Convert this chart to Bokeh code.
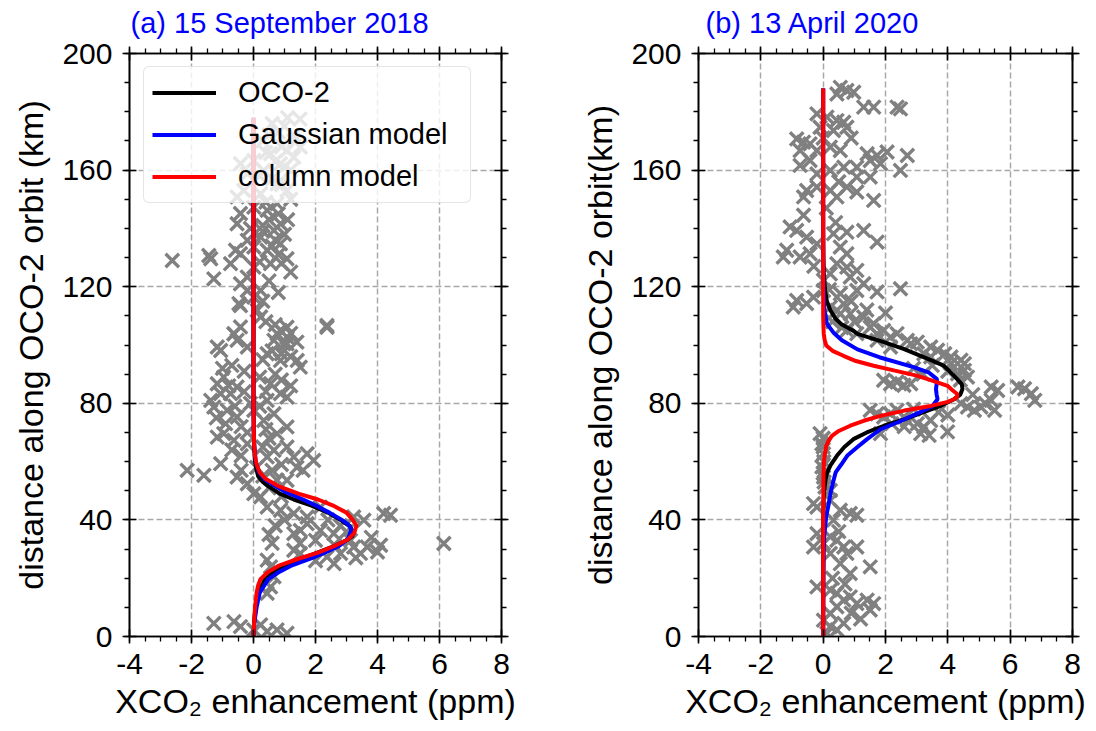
from bokeh.plotting import figure
from bokeh.models import (Range1d, FixedTicker, LinearAxis, Legend, LegendItem,
                          ColumnDataSource, CustomJSTickFormatter, CustomLabelingPolicy)
from bokeh.layouts import row
from bokeh.embed import file_html
from bokeh.resources import INLINE

# ---------------- data ----------------
title_a = "(a) 15 September 2018"
title_b = "(b) 13 April 2020"
ylabel_a = "distance along OCO-2 orbit (km)"
ylabel_b = "distance along OCO-2 orbit(km)"
xlabel = "XCO\u2082 enhancement (ppm)"
x_ticks = [-4, -2, 0, 2, 4, 6, 8]
y_ticks = [0, 40, 80, 120, 160, 200]
legend_labels = ["OCO-2", "Gaussian model", "column model"]

# panel (a) OCO-2 soundings (enhancement ppm, distance km)
a_pts = [
    (-2.62, 129.0), (-1.44, 130.7), (-1.28, 122.7), (-1.38, 129.6), (-0.74, 127.9),
    (-0.58, 132.5), (-0.42, 131.3), (1.08, 129.6), (-0.47, 114.2), (0.23, 118.7),
    (2.37, 106.7), (-0.63, 103.9), (-1.17, 99.3), (0.76, 103.9), (1.08, 102.7),
    (0.98, 100.4), (-0.42, 145.1), (0.01, 147.3), (0.44, 146.2), (0.76, 148.5),
    (-0.53, 141.6), (0.87, 141.6), (0.23, 137.0), (0.66, 139.3), (-0.20, 135.9),
    (0.01, 133.6), (0.44, 132.5), (0.87, 134.7), (0.55, 127.9), (-0.20, 123.3),
    (0.01, 126.7), (-0.42, 121.0), (-0.20, 118.7), (0.01, 116.4), (0.12, 111.9),
    (0.23, 109.6), (-0.42, 106.2), (-0.42, 162.2), (0.01, 163.3), (0.55, 165.6),
    (1.08, 166.7), (1.30, 164.4), (1.51, 167.9), (0.87, 162.2), (0.33, 159.9),
    (-0.20, 158.7), (-0.31, 153.0), (0.76, 155.3), (1.08, 153.0), (0.23, 151.9),
    (-0.53, 150.8), (1.30, 170.1), (1.00, 175.0), (1.30, 172.0), (0.60, 176.0),
    (1.50, 177.5), (0.90, 168.0), (1.20, 160.0), (0.50, 143.0), (0.30, 141.0),
    (-0.10, 140.0), (0.70, 136.0), (1.00, 138.0), (0.20, 128.5), (0.80, 131.0),
    (-0.42, 113.5), (2.37, 106.1), (-0.63, 103.8), (-1.06, 98.1), (-0.53, 101.6),
    (-0.20, 99.3), (0.87, 105.0), (1.08, 106.1), (0.66, 101.6), (1.08, 100.4),
    (0.44, 97.0), (0.87, 94.7), (1.41, 94.7), (1.51, 92.4), (-1.17, 86.7),
    (-0.96, 89.0), (-1.06, 83.3), (-1.38, 81.0), (-0.74, 83.3), (-0.53, 85.6),
    (-1.28, 78.7), (-0.85, 77.6), (0.55, 86.7), (0.87, 83.3), (1.08, 82.1),
    (0.44, 81.0), (0.01, 77.6), (0.66, 76.4), (-0.53, 75.3), (-1.17, 68.4),
    (-0.96, 69.6), (-0.63, 67.3), (-0.20, 66.1), (0.76, 69.6), (1.08, 71.9),
    (0.33, 74.1), (0.66, 63.9), (1.08, 65.0), (1.73, 62.7), (1.94, 60.4),
    (1.30, 61.6), (0.44, 61.6), (-2.14, 57.0), (-1.60, 55.3), (-1.06, 59.3),
    (-0.53, 54.7), (-0.20, 52.4), (0.01, 49.0), (0.23, 47.9), (0.76, 53.6),
    (1.08, 53.6), (0.44, 44.4), (0.87, 43.3), (1.30, 42.2), (1.73, 41.0),
    (2.16, 44.4), (3.23, 41.0), (3.56, 39.9), (4.20, 42.2), (4.42, 41.6),
    (1.30, 35.3), (1.51, 36.4), (1.73, 38.7), (2.16, 36.4), (2.59, 35.3),
    (3.13, 33.0), (3.23, 30.7), (3.67, 30.7), (4.10, 31.3), (3.45, 28.5),
    (2.81, 28.5), (2.37, 27.3), (1.51, 28.5), (1.30, 29.6), (6.14, 31.9),
    (0.44, 26.2), (0.55, 23.9), (0.66, 20.5), (0.55, 17.0), (0.44, 14.8),
    (-1.28, 4.5), (-0.63, 5.1), (-0.42, 3.4), (0.01, 2.3), (0.44, 1.7),
    (0.76, 2.3), (1.08, 1.1), (0.23, 4.0), (-0.30, 91.0), (0.20, 89.0),
    (-0.70, 93.0), (0.40, 71.0), (-0.40, 62.0), (0.10, 58.0), (0.60, 57.0),
    (-0.90, 73.0), (1.40, 58.0), (0.90, 48.0), (0.70, 38.0), (2.60, 31.5),
    (0.30, 170.0), (0.50, 172.0), (0.80, 173.0), (1.10, 178.0), (0.40, 166.0),
    (0.70, 163.0), (1.00, 161.0), (0.20, 158.0), (0.60, 157.0), (0.90, 155.0),
    (1.20, 150.0), (0.40, 149.0), (0.80, 145.0), (1.10, 143.0), (0.30, 139.0),
    (0.60, 134.0), (0.90, 128.0), (1.20, 125.0), (0.50, 122.0), (0.80, 118.0),
    (0.30, 115.0), (0.40, 108.0), (0.70, 107.0), (1.20, 104.0), (1.40, 101.0),
    (0.60, 98.0), (0.90, 97.0), (1.20, 96.0), (0.30, 95.0), (-1.00, 92.0),
    (-0.80, 86.0), (-0.30, 84.0), (-0.10, 80.0), (-0.60, 79.0), (-1.20, 75.0),
    (-0.40, 72.0), (-0.70, 64.0), (-0.20, 70.0), (0.30, 65.0), (0.50, 68.0),
    (0.20, 79.0), (0.40, 84.0), (0.70, 90.0), (0.90, 88.0), (1.20, 86.0),
    (0.30, 55.0), (0.50, 51.0), (0.90, 59.0), (1.60, 57.0), (-0.40, 57.0),
    (1.00, 40.0), (1.50, 32.0), (2.00, 33.0), (2.40, 40.0), (2.80, 38.0),
    (3.00, 36.0), (3.80, 34.0), (4.00, 29.0), (3.30, 27.0), (2.60, 25.0),
    (2.00, 26.0), (0.60, 32.0), (0.50, 35.0),
]

# panel (a) curves: distance (km) and enhancement (ppm)
a_obs_d = [0, 5, 10, 15, 19.6, 22, 24.2, 27.6, 31, 33, 34.5, 36, 37.9, 40, 42.5, 45, 47,
           49, 51.6, 53, 55, 58, 61, 65, 70, 80, 178]
a_obs_x = [0, 0.02, 0.06, 0.15, 0.37, 0.65, 1.0, 1.77, 2.6, 3.0, 3.2, 3.2, 3.1, 2.8, 2.4,
           1.85, 1.3, 0.85, 0.47, 0.3, 0.15, 0.08, 0.04, 0.02, 0.01, 0, 0]
a_gau_d = [0, 5, 10, 15, 19.6, 22, 24.2, 27, 29, 31, 33.5, 36.8, 38.5, 40, 42.5, 45, 47,
           49.5, 51.6, 54, 56.3, 60, 65, 70, 80, 178]
a_gau_x = [0, 0.03, 0.1, 0.2, 0.47, 0.8, 1.2, 1.9, 2.35, 2.75, 3.05, 3.16, 3.05, 2.85, 2.45,
           2.0, 1.6, 1.05, 0.7, 0.35, 0.18, 0.07, 0.03, 0.01, 0, 0]
a_col_d = [0, 5, 10, 15, 17.5, 19.6, 22, 24.2, 26.5, 28.8, 31, 33.3, 35.5, 38, 40, 42.5,
           45, 47, 49, 51.6, 54, 56.3, 59, 62, 66, 70, 80, 178]
a_col_x = [0, 0.02, 0.05, 0.1, 0.15, 0.22, 0.45, 0.8, 1.4, 2.08, 2.6, 3.05, 3.25, 3.32, 3.2,
           3.0, 2.55, 2.08, 1.45, 0.8, 0.4, 0.2, 0.1, 0.05, 0.02, 0.01, 0, 0]

# panel (b) OCO-2 soundings
b_pts = [
    (0.55, 188.4), (0.76, 187.3), (0.98, 186.7), (0.44, 186.1), (1.30, 181.6),
    (1.62, 181.6), (2.37, 181.6), (2.48, 181.0), (-0.20, 179.3), (0.12, 178.2),
    (0.44, 177.0), (0.66, 176.4), (0.33, 173.6), (0.76, 174.7), (-0.10, 174.7),
    (-0.85, 170.7), (-0.63, 169.6), (-0.42, 169.0), (-0.20, 166.7), (0.23, 167.9),
    (0.55, 166.7), (-0.74, 166.7), (1.41, 165.6), (1.73, 165.0), (2.05, 166.2),
    (2.70, 165.0), (1.51, 163.3), (1.84, 162.2), (2.48, 159.9), (1.08, 161.0),
    (-0.74, 161.6), (-0.42, 163.3), (-0.20, 158.7), (0.23, 159.9), (0.66, 161.0),
    (1.08, 157.6), (1.51, 157.6), (0.76, 154.2), (-0.53, 153.0), (-0.20, 154.2),
    (0.23, 153.0), (0.44, 150.8), (1.08, 152.5), (1.62, 149.6), (-0.63, 150.8),
    (-0.63, 144.5), (-1.06, 140.5), (-0.85, 139.3), (-0.53, 137.0), (-0.20, 134.7),
    (-1.17, 132.5), (-1.28, 130.2), (-0.74, 130.2), (-0.42, 131.3), (0.33, 138.2),
    (0.76, 138.7), (1.30, 139.3), (1.73, 135.3), (0.55, 133.6), (0.76, 131.3),
    (0.44, 127.9), (0.76, 126.7), (1.08, 125.6), (0.87, 123.3), (0.23, 124.4),
    (0.01, 122.2), (-0.85, 115.3), (-0.53, 114.2), (-0.96, 113.0), (-0.31, 116.4),
    (0.01, 118.7), (0.55, 117.6), (1.08, 118.7), (1.73, 118.2), (2.48, 119.3),
    (0.44, 111.9), (0.87, 110.7), (1.30, 109.6), (1.62, 107.3), (1.94, 105.0),
    (2.37, 103.9), (2.70, 101.6), (3.02, 101.0), (3.45, 99.3), (3.67, 98.2),
    (4.10, 95.9), (4.42, 94.8), (4.53, 93.6), (2.16, 99.3), (1.73, 101.6),
    (1.08, 103.9), (0.76, 105.0), (0.23, 113.0), (0.66, 114.1), (0.55, 110.7),
    (1.51, 106.1), (1.73, 103.8), (2.16, 102.7), (2.81, 100.4), (3.23, 97.0),
    (3.45, 95.9), (4.10, 93.6), (4.53, 91.3), (4.31, 90.1), (4.63, 89.0),
    (1.94, 87.9), (2.16, 86.7), (2.37, 87.3), (2.59, 86.2), (2.81, 86.7),
    (5.39, 85.6), (5.60, 84.4), (6.25, 85.6), (6.46, 85.0), (6.68, 83.3),
    (6.79, 81.0), (4.42, 79.9), (4.63, 78.7), (4.85, 77.6), (5.06, 78.7),
    (5.39, 81.0), (5.50, 77.6), (1.51, 77.6), (1.73, 76.4), (1.94, 75.3),
    (2.16, 76.4), (2.37, 77.6), (2.59, 75.3), (2.70, 74.1), (3.02, 73.0),
    (3.23, 71.9), (3.45, 74.1), (3.13, 69.6), (3.99, 70.2), (1.84, 69.6),
    (-0.10, 69.6), (-0.04, 66.1), (0.01, 62.7), (-0.04, 58.2), (0.01, 54.7),
    (0.06, 51.3), (0.23, 50.1), (0.00, 68.0), (0.00, 65.0), (0.02, 60.0),
    (0.00, 56.0), (0.03, 53.0), (-0.31, 45.6), (-0.20, 44.4), (0.23, 46.7),
    (0.55, 43.3), (0.87, 42.2), (1.08, 41.6), (0.33, 39.9), (-0.20, 35.3),
    (-0.31, 30.7), (0.01, 31.9), (0.23, 34.2), (0.44, 33.0), (0.66, 30.7),
    (0.76, 28.5), (1.08, 30.7), (0.55, 25.0), (0.87, 21.6), (1.51, 23.9),
    (0.23, 28.5), (-0.20, 17.0), (0.23, 15.9), (0.44, 14.8), (0.66, 12.5),
    (0.87, 13.6), (1.08, 11.3), (1.41, 12.5), (1.62, 11.3), (1.51, 9.1),
    (0.44, 10.2), (0.23, 7.9), (0.01, 5.6), (0.23, 3.4), (0.44, 2.3),
    (0.66, 4.5), (0.12, 1.1), (0.90, 8.0), (1.20, 6.0), (0.30, 20.0),
    (0.30, 108.0), (0.60, 106.0), (1.00, 108.0), (1.40, 112.0), (0.90, 115.0),
    (1.30, 121.0), (2.00, 111.0), (3.90, 97.0), (3.50, 93.0), (4.00, 91.0),
    (3.20, 90.0), (2.90, 92.0), (4.40, 88.0), (4.80, 83.0), (5.20, 80.0),
    (4.00, 76.0), (3.70, 77.0), (2.90, 78.0), (2.60, 72.0), (3.40, 69.0),
    (2.20, 73.0), (0.40, 142.0), (0.10, 147.0), (-0.30, 127.0), (0.20, 119.0),
    (0.50, 156.0), (0.00, 171.0), (0.90, 171.0), (0.50, 36.0), (0.70, 18.0),
]

# panel (b) curves
b_obs_d = [0, 40, 48, 51.6, 54, 56.3, 59, 62, 65, 67.7, 70, 72.3, 74.5, 76.9, 79, 81.4, 83,
           84.9, 86.5, 88.3, 90.5, 92.9, 95.5, 98.6, 101, 103.8, 105, 107, 109, 111.9, 115,
           118.7, 125, 130, 140, 188]
b_obs_x = [0, 0, 0.02, 0.05, 0.08, 0.13, 0.25, 0.44, 0.68, 0.97, 1.4, 1.95, 2.6, 3.2, 3.75,
           4.2, 4.4, 4.47, 4.45, 4.3, 4.1, 3.87, 3.3, 2.6, 1.95, 1.1, 0.95, 0.6, 0.4, 0.23,
           0.12, 0.06, 0.02, 0.01, 0, 0]
b_gau_d = [0, 20, 30, 35, 41.4, 45, 49.4, 53, 56.3, 59, 62, 65, 67.7, 71.1, 73.5, 76.9, 79,
           81.4, 83, 84.9, 86.5, 88.3, 90.5, 92.4, 95.8, 98.5, 101.6, 104, 107.3, 112, 120,
           130, 188]
b_gau_x = [0, 0.01, 0.02, 0.04, 0.1, 0.17, 0.24, 0.32, 0.4, 0.58, 0.77, 1.1, 1.41, 1.84, 2.4,
           3.1, 3.5, 3.67, 3.64, 3.62, 3.64, 3.65, 3.4, 2.9, 1.8, 1.1, 0.6, 0.35, 0.12, 0.04,
           0.01, 0, 0]
b_col_d = [0, 40, 55, 60.8, 63, 65.4, 67, 68.8, 70.5, 72.3, 74, 75.7, 77.5, 79.1, 80.5, 81.4,
           82.3, 83.2, 84.5, 86, 87.8, 89.5, 91.2, 92.9, 94.5, 96.3, 98, 99.8, 101.6, 103.8,
           106, 110, 188]
b_col_x = [0, 0, 0.01, 0.03, 0.06, 0.1, 0.17, 0.28, 0.5, 0.87, 1.3, 1.84, 2.6, 3.45, 4.0, 4.2,
           4.3, 4.3, 4.15, 3.99, 3.5, 3.0, 2.3, 1.62, 1.05, 0.65, 0.3, 0.1, 0.05, 0.02, 0.01,
           0, 0]

FONT = "Liberation Sans"
FRAME_H = 583


def style_axis(ax, ticks, minor, labels=True):
    ax.ticker = FixedTicker(ticks=ticks, minor_ticks=minor)
    ax.axis_line_color = "black"
    ax.axis_line_width = 1.6
    ax.major_tick_line_color = "black"
    ax.major_tick_line_width = 1.6
    ax.minor_tick_line_color = "black"
    ax.minor_tick_line_width = 1.3
    ax.major_tick_in = 7
    ax.major_tick_out = 7
    ax.minor_tick_in = 0
    ax.minor_tick_out = 5
    ax.major_label_text_font = FONT
    ax.major_label_text_color = "black"
    ax.axis_label_text_font = FONT
    ax.axis_label_text_color = "black"
    ax.axis_label_text_font_style = "normal"
    ax.axis_label_text_font_size = "34px"
    if labels:
        ax.major_label_text_font_size = "30px"
        ax.formatter = CustomJSTickFormatter(code="return tick.toFixed(0);")
    else:
        # tick marks only: no label is kept on the mirrored axes
        ax.major_label_text_font_size = "1px"
        ax.major_label_standoff = 0
        ax.major_label_policy = CustomLabelingPolicy(code="return [];")


def make_panel(frame_w, left, right, pts, obs, gau, col, title, title_dx, ylabel, legend):
    p = figure(frame_width=frame_w, frame_height=FRAME_H,
               x_range=Range1d(-4, 8), y_range=Range1d(0, 200),
               output_backend="svg", toolbar_location=None,
               min_border_left=left, min_border_right=right,
               min_border_top=53, min_border_bottom=95)
    p.background_fill_color = "white"
    p.border_fill_color = "white"
    p.outline_line_color = "black"
    p.outline_line_width = 1.6

    p.title.text = title
    p.title.text_font = FONT
    p.title.text_font_size = "29px"
    p.title.text_font_style = "normal"
    p.title.text_color = "#0000ff"
    p.title.align = "left"
    p.title.offset = title_dx
    p.title.standoff = 7

    xminor = [-4 + 0.5 * i for i in range(25)]
    yminor = [10 * i for i in range(21)]
    style_axis(p.xaxis[0], x_ticks, xminor)
    style_axis(p.yaxis[0], y_ticks, yminor)
    p.xaxis[0].major_label_standoff = 10
    p.yaxis[0].major_label_standoff = 10
    p.yaxis[0].axis_label = ylabel
    p.yaxis[0].axis_label_standoff = 9
    p.xaxis[0].axis_label = xlabel
    p.xaxis[0].axis_label_standoff = 5

    top = LinearAxis()
    style_axis(top, x_ticks, xminor, labels=False)
    p.add_layout(top, "above")
    rgt = LinearAxis()
    style_axis(rgt, y_ticks, yminor, labels=False)
    p.add_layout(rgt, "right")

    for g in (p.xgrid[0], p.ygrid[0]):
        g.grid_line_color = "#a8a8a8"
        g.grid_line_width = 1.5
        g.grid_line_dash = "6 3"
    p.xgrid[0].ticker = FixedTicker(ticks=x_ticks)
    p.ygrid[0].ticker = FixedTicker(ticks=y_ticks)

    src = ColumnDataSource(dict(x=[q[0] for q in pts], y=[q[1] for q in pts]))
    p.scatter("x", "y", source=src, marker="x", size=19, line_color="#808080",
              line_width=3.4)

    r_obs = p.line(obs[1], obs[0], line_color="black", line_width=4)
    r_gau = p.line(gau[1], gau[0], line_color="#0000ff", line_width=4)
    r_col = p.line(col[1], col[0], line_color="#ff0000", line_width=4)

    if legend:
        lg = Legend(items=[LegendItem(label=legend_labels[0], renderers=[r_obs]),
                           LegendItem(label=legend_labels[1], renderers=[r_gau]),
                           LegendItem(label=legend_labels[2], renderers=[r_col])],
                    location=(14, 433))
        lg.margin = 0
        lg.padding = 8
        lg.spacing = 7
        lg.glyph_width = 64
        lg.glyph_height = 35
        lg.label_height = 35
        lg.label_width = 224
        lg.label_standoff = 22
        lg.label_text_font = FONT
        lg.label_text_font_size = "29px"
        lg.label_text_color = "black"
        lg.background_fill_color = "white"
        lg.background_fill_alpha = 0.8
        lg.border_line_color = "#cccccc"
        lg.border_line_width = 1.5
        if "border_radius" in Legend.properties():
            lg.border_radius = 6
        p.add_layout(lg)
    return p


pa = make_panel(372, 129, 20, a_pts, (a_obs_d, a_obs_x), (a_gau_d, a_gau_x),
                (a_col_d, a_col_x), title_a, 1, ylabel_a, True)
pb = make_panel(374, 177, 22, b_pts, (b_obs_d, b_obs_x), (b_gau_d, b_gau_x),
                (b_col_d, b_col_x), title_b, 7, ylabel_b, False)

layout = row(pa, pb)
open("out.html", "w").write(file_html(layout, INLINE))
